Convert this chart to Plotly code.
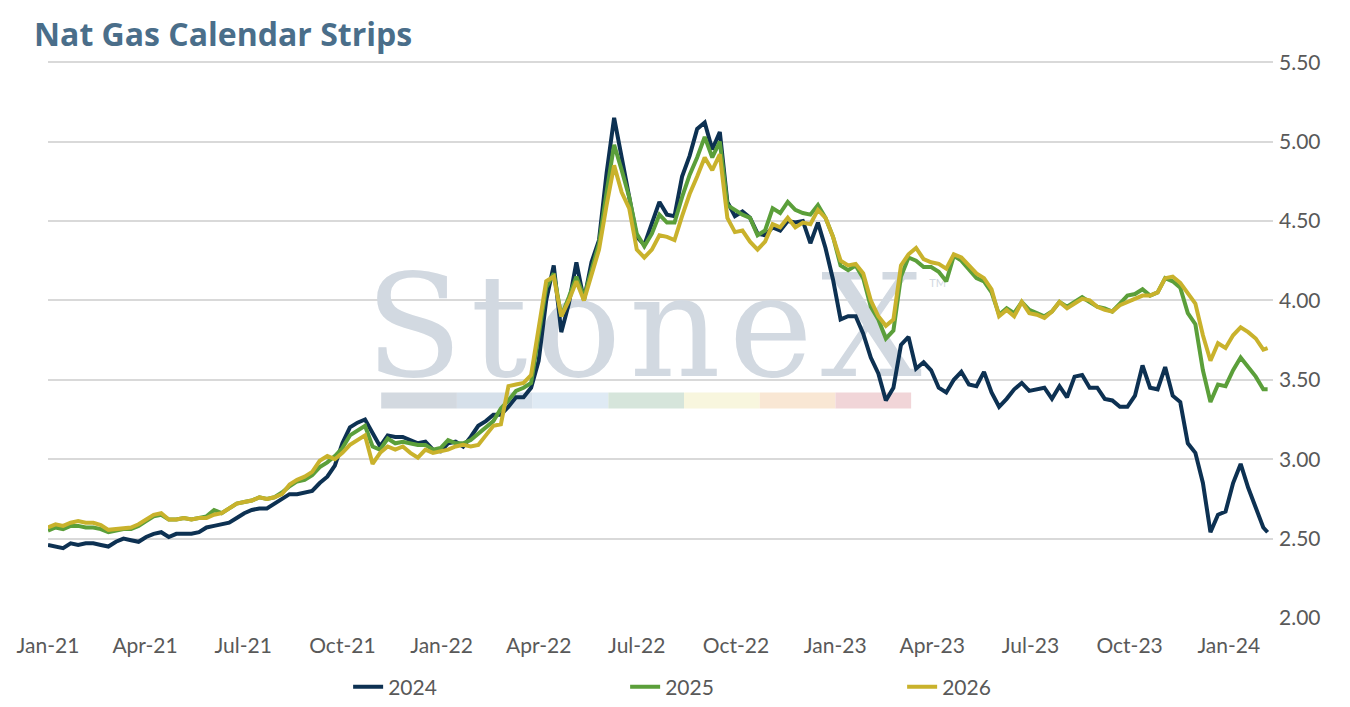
import pandas as pd
import plotly.graph_objects as go

# weekly closes, Jan-2021 .. Feb-2024
dates = list(pd.date_range("2021-01-01", periods=162, freq="7D")) + [pd.Timestamp("2024-02-06")]

cal_2024 = [
    2.46, 2.45, 2.44, 2.47, 2.46, 2.47, 2.47, 2.46, 2.45, 2.48,
    2.50, 2.49, 2.48, 2.51, 2.53, 2.54, 2.51, 2.53, 2.53, 2.53,
    2.54, 2.57, 2.58, 2.59, 2.60, 2.63, 2.66, 2.68, 2.69, 2.69,
    2.72, 2.75, 2.78, 2.78, 2.79, 2.80, 2.85, 2.89, 2.96, 3.10,
    3.20, 3.23, 3.25, 3.16, 3.08, 3.15, 3.14, 3.14, 3.12, 3.10,
    3.11, 3.06, 3.05, 3.10, 3.11, 3.08, 3.14, 3.21, 3.24, 3.28,
    3.28, 3.33, 3.39, 3.39, 3.45, 3.62, 4.00, 4.22, 3.80, 3.98,
    4.24, 4.00, 4.24, 4.38, 4.80, 5.15, 4.90, 4.66, 4.40, 4.35,
    4.48, 4.62, 4.54, 4.53, 4.78, 4.91, 5.08, 5.12, 4.95, 5.06,
    4.62, 4.53, 4.56, 4.52, 4.42, 4.41, 4.46, 4.44, 4.50, 4.49,
    4.50, 4.36, 4.49, 4.33, 4.13, 3.88, 3.90, 3.90, 3.79, 3.64,
    3.54, 3.37, 3.45, 3.72, 3.77, 3.57, 3.61, 3.56, 3.45, 3.42,
    3.50, 3.55, 3.47, 3.46, 3.55, 3.42, 3.33, 3.38, 3.44, 3.48,
    3.43, 3.44, 3.45, 3.38, 3.46, 3.39, 3.52, 3.53, 3.45, 3.45,
    3.38, 3.37, 3.33, 3.33, 3.40, 3.59, 3.45, 3.44, 3.58, 3.40,
    3.36, 3.10, 3.04, 2.85, 2.54, 2.65, 2.67, 2.85, 2.97, 2.82,
    2.70, 2.57, 2.54,
]

cal_2025 = [
    2.55, 2.57, 2.56, 2.58, 2.58, 2.57, 2.57, 2.56, 2.54, 2.55,
    2.56, 2.56, 2.58, 2.61, 2.64, 2.65, 2.62, 2.62, 2.63, 2.62,
    2.63, 2.64, 2.68, 2.66, 2.69, 2.72, 2.73, 2.74, 2.76, 2.75,
    2.76, 2.79, 2.83, 2.86, 2.87, 2.90, 2.95, 2.98, 3.02, 3.07,
    3.15, 3.18, 3.21, 3.08, 3.06, 3.13, 3.10, 3.11, 3.10, 3.09,
    3.09, 3.06, 3.07, 3.12, 3.10, 3.10, 3.12, 3.16, 3.20, 3.24,
    3.32, 3.37, 3.43, 3.45, 3.48, 3.78, 4.08, 4.17, 3.90, 4.02,
    4.15, 4.02, 4.20, 4.36, 4.68, 4.98, 4.82, 4.65, 4.42, 4.34,
    4.42, 4.54, 4.49, 4.49, 4.65, 4.79, 4.90, 5.03, 4.90, 5.00,
    4.60, 4.57, 4.54, 4.52, 4.41, 4.44, 4.58, 4.55, 4.62, 4.57,
    4.55, 4.54, 4.60, 4.52, 4.40, 4.22, 4.19, 4.22, 4.14, 3.96,
    3.88, 3.76, 3.81, 4.15, 4.27, 4.25, 4.21, 4.21, 4.18, 4.12,
    4.28, 4.25, 4.19, 4.14, 4.12, 4.05, 3.91, 3.95, 3.92, 3.99,
    3.94, 3.92, 3.90, 3.93, 3.99, 3.96, 3.99, 4.02, 3.99, 3.96,
    3.95, 3.93, 3.98, 4.03, 4.04, 4.07, 4.03, 4.05, 4.14, 4.12,
    4.08, 3.92, 3.85, 3.56, 3.36, 3.47, 3.46, 3.56, 3.64, 3.58,
    3.52, 3.44, 3.44,
]

cal_2026 = [
    2.57, 2.59, 2.58, 2.60, 2.61, 2.60, 2.60, 2.585, 2.555, 2.56,
    2.57, 2.57, 2.59, 2.62, 2.65, 2.66, 2.62, 2.62, 2.63, 2.62,
    2.63, 2.63, 2.65, 2.66, 2.69, 2.72, 2.73, 2.74, 2.76, 2.75,
    2.76, 2.78, 2.84, 2.87, 2.89, 2.92, 2.99, 3.02, 3.00, 3.04,
    3.09, 3.12, 3.15, 2.97, 3.04, 3.08, 3.06, 3.08, 3.04, 3.01,
    3.06, 3.04, 3.05, 3.06, 3.08, 3.09, 3.08, 3.09, 3.15, 3.21,
    3.22, 3.46, 3.47, 3.48, 3.53, 3.82, 4.12, 4.15, 3.90, 4.00,
    4.12, 4.00, 4.16, 4.32, 4.60, 4.85, 4.68, 4.58, 4.32, 4.27,
    4.32, 4.41, 4.40, 4.38, 4.53, 4.67, 4.78, 4.90, 4.82, 4.92,
    4.52, 4.43, 4.44, 4.37, 4.32, 4.37, 4.48, 4.46, 4.52, 4.46,
    4.49, 4.48, 4.57, 4.52, 4.40, 4.25, 4.22, 4.23, 4.17, 4.00,
    3.90, 3.84, 3.88, 4.22, 4.29, 4.33, 4.26, 4.24, 4.23, 4.20,
    4.29, 4.27, 4.22, 4.17, 4.14, 4.07, 3.90, 3.94, 3.90, 3.99,
    3.92, 3.91, 3.89, 3.93, 3.99, 3.95, 3.98, 4.01, 4.00, 3.96,
    3.94, 3.93, 3.97, 3.99, 4.01, 4.03, 4.03, 4.05, 4.14, 4.15,
    4.11, 4.05, 3.98, 3.78, 3.62, 3.73, 3.70, 3.78, 3.83, 3.80,
    3.76, 3.69, 3.70,
]

series = [
    ("2024", cal_2024, "#0d3152"),
    ("2025", cal_2025, "#5b9f3a"),
    ("2026", cal_2026, "#c9b22c"),
]

y_ticks = [2.0, 2.5, 3.0, 3.5, 4.0, 4.5, 5.0, 5.5]

fig = go.Figure()

# StoneX watermark (sits under the price lines)
fig.add_trace(go.Scatter(
    x=["2022-07-11"], y=[3.75], mode="text",
    text=["<span style='letter-spacing:8px'>StoneX</span>"],
    textfont=dict(family="DejaVu Serif", size=142, color="#d2d9e1"),
    hoverinfo="skip", showlegend=False,
))
fig.add_trace(go.Scatter(
    x=["2023-04-06"], y=[4.10], mode="text", text=["TM"],
    textfont=dict(family="Lato", size=11, color="#d2d9e1"),
    hoverinfo="skip", showlegend=False,
))

for name, vals, color in series:
    fig.add_trace(go.Scatter(
        x=dates, y=vals, mode="lines", name=name,
        line=dict(color=color, width=4),
    ))

# coloured strip under the watermark
strip_colors = ["#d3d9e0", "#d6e0ea", "#dfeaf4", "#d6e5db", "#f8f6de", "#f9e7d4", "#f1d5d8"]
seg = 0.0618
for i, c in enumerate(strip_colors):
    fig.add_shape(type="rect", xref="paper", yref="paper",
                  x0=0.272 + i * seg, x1=0.272 + (i + 1) * seg, y0=0.3747, y1=0.4033,
                  fillcolor=c, line_width=0, layer="below")

# the page body adds an 8px offset, so the figure is a little smaller than the window
fig.update_layout(
    width=1342, height=699,
    margin=dict(l=40, r=77, t=51, b=89, autoexpand=False),
    paper_bgcolor="white", plot_bgcolor="white",
    font=dict(family="Lato", size=21, color="#595959"),
    title=dict(text="<b>Nat Gas Calendar Strips</b>", xref="container", x=0.0194, xanchor="left",
               yref="container", y=0.961, yanchor="middle",
               font=dict(family="Open Sans", size=32, color="#4a6e8a")),
    showlegend=True,
    legend=dict(orientation="h", x=0.245, xanchor="left",
                yref="container", y=0.0286, yanchor="middle",
                entrywidth=232, entrywidthmode="pixels",
                font=dict(size=21, color="#595959")),
)

fig.update_xaxes(
    range=["2021-01-01", "2024-02-11"],
    tick0="2021-01-01", dtick="M3", tickformat="%b-%y",
    showgrid=False, showline=False, zeroline=False, ticks="",
    ticklabelstandoff=13, automargin=False,
)
fig.update_yaxes(
    side="right", range=[2.0, 5.52], tickvals=y_ticks, tickformat=".2f",
    showgrid=True, gridcolor="#d9d9d9", gridwidth=1.5,
    zeroline=False, showline=False, ticks="", ticklabelstandoff=5, automargin=False,
)

fig.write_html("out.html")
